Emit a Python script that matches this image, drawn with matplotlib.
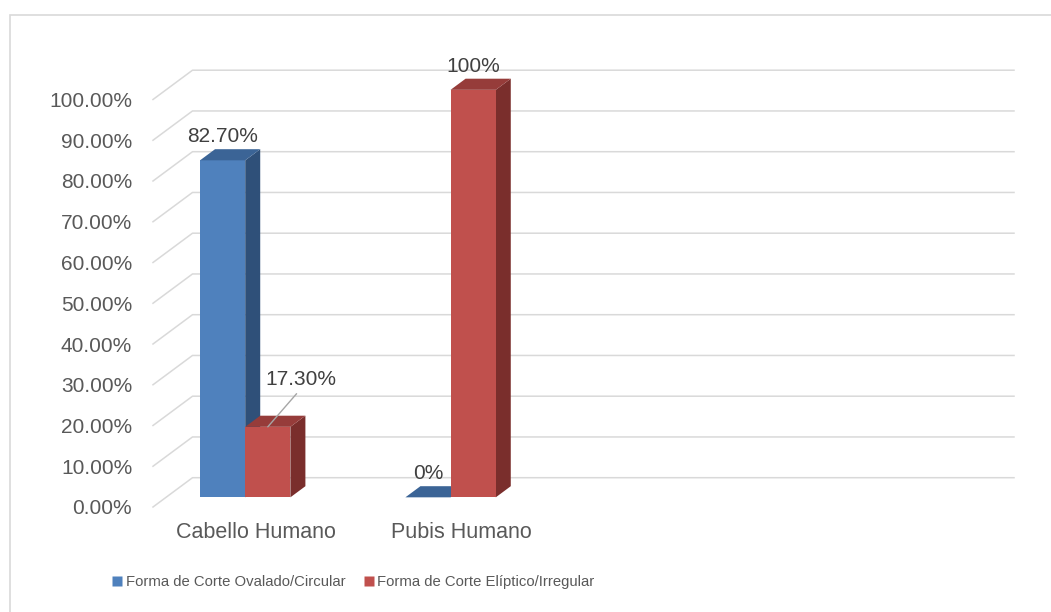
import numpy as np
import matplotlib
matplotlib.use("Agg")
import matplotlib.pyplot as plt
from matplotlib.patches import Polygon, Rectangle
from matplotlib.lines import Line2D

# ------------------------------------------------------------------
# Data
# ------------------------------------------------------------------
categories = ["Cabello Humano", "Pubis Humano", "", ""]
series_names = ["Forma de Corte Ovalado/Circular", "Forma de Corte Elíptico/Irregular"]
ovalado = [82.7, 0.0]          # %
eliptico = [17.3, 100.0]       # %
value_labels = [["82.70%", "0%"], ["17.30%", "100%"]]
yticks = np.arange(0, 101, 10)
ytick_labels = [f"{t:.2f}%" for t in yticks]

# ------------------------------------------------------------------
# Style
# ------------------------------------------------------------------
plt.rcParams["font.family"] = ["Liberation Sans", "DejaVu Sans"]
faces = {
    "blue": ("#4F81BD", "#3B6496", "#2F5079"),   # front, top, side
    "red":  ("#C0504D", "#963C3A", "#7A2E2C"),
}
grid_col = "#D9D9D9"
text_col = "#595959"
label_col = "#404040"

W, H, DPI = 1051, 612, 100
fig = plt.figure(figsize=(W / DPI, H / DPI), dpi=DPI)
ax_left, ax_bottom = 153 / W, (H - 507) / H
ax_w, ax_h = 821.5 / W, 407.5 / H
ax = fig.add_axes([ax_left, ax_bottom, ax_w, ax_h])
ax.set_xlim(-0.5, len(categories) - 0.5)
ax.set_ylim(0, 100)

# depth of the back wall and of the bars, in pixels -> data units
px_x = ax_w * W / len(categories)
px_y = ax_h * H / 100
DX, DY = 39.5 / px_x, 29.3 / px_y
d_front, d_back = 0.33, 0.71
bar_w = 0.22
group_left = -0.3345


def shift(x, y, d):
    return (x + d * DX, y + d * DY)


# back wall + side wall gridlines
x0, x1 = ax.get_xlim()
for t in yticks:
    ax.add_line(Line2D([x0, x0 + DX, x1 + DX], [t, t + DY, t + DY],
                       color=grid_col, lw=1.1, clip_on=False, zorder=1))


def draw_bar(xl, v, cols):
    xr = xl + bar_w
    front, top, side = cols
    if v > 0:
        ax.add_patch(Polygon([shift(xr, 0, d_front), shift(xr, v, d_front),
                              shift(xr, v, d_back), shift(xr, 0, d_back)],
                             closed=True, fc=side, ec="none", clip_on=False, zorder=3))
        ax.add_patch(Polygon([shift(xl, 0, d_front), shift(xr, 0, d_front),
                              shift(xr, v, d_front), shift(xl, v, d_front)],
                             closed=True, fc=front, ec="none", clip_on=False, zorder=3))
    ax.add_patch(Polygon([shift(xl, v, d_front), shift(xr, v, d_front),
                          shift(xr, v, d_back), shift(xl, v, d_back)],
                         closed=True, fc=top, ec="none", clip_on=False, zorder=3))


for i in range(len(ovalado)):
    draw_bar(i + group_left, ovalado[i], faces["blue"])
    draw_bar(i + group_left + bar_w, eliptico[i], faces["red"])

# data labels
for s, vals in enumerate([ovalado, eliptico]):
    for i, v in enumerate(vals):
        xc = i + group_left + s * bar_w + bar_w / 2
        txt = value_labels[s][i]
        if txt == "17.30%":
            ax.annotate(txt, xy=shift(xc, v, d_front), xytext=(33, 38),
                        textcoords="offset pixels", ha="center", va="bottom",
                        fontsize=15, color=label_col, zorder=5,
                        annotation_clip=False,
                        arrowprops=dict(arrowstyle="-", color="#A6A6A6", lw=1,
                                        shrinkA=2, shrinkB=0, relpos=(0.5, 0)))
        else:
            fx = shift(xc, v, d_front)[0]
            by = shift(xc, v, d_back)[1]
            ax.annotate(txt, xy=(fx, by), xytext=(0, 3), textcoords="offset pixels",
                        ha="center", va="bottom", fontsize=15, color=label_col,
                        zorder=5, annotation_clip=False)

# axes
ax.set_yticks(yticks)
ax.set_yticklabels(ytick_labels)
ax.set_xticks(range(len(categories)))
ax.set_xticklabels(categories)
ax.tick_params(axis="y", length=0, pad=15, labelsize=15, labelcolor=text_col)
ax.tick_params(axis="x", length=0, pad=11, labelsize=15.5, labelcolor=text_col)
for sp in ax.spines.values():
    sp.set_visible(False)
ax.patch.set_visible(False)

# legend
handles = [Line2D([], [], marker="s", ls="none", ms=6.5, mec="none", mfc=faces[c][0])
           for c in ("blue", "red")]
fig.legend(handles, series_names, loc="center", ncol=2, frameon=False,
           bbox_to_anchor=(354 / W, 1 - 582 / H), fontsize=10.7,
           handlelength=0.5, handletextpad=0.3, columnspacing=1.35,
           labelcolor=text_col, borderaxespad=0)

# chart area border
fig.add_artist(Rectangle((10 / W, -0.1), 1.2, 1.1 - 15 / H, transform=fig.transFigure,
                         fill=False, ec="#D9D9D9", lw=1.2))

fig.savefig("out.png", dpi=DPI)
